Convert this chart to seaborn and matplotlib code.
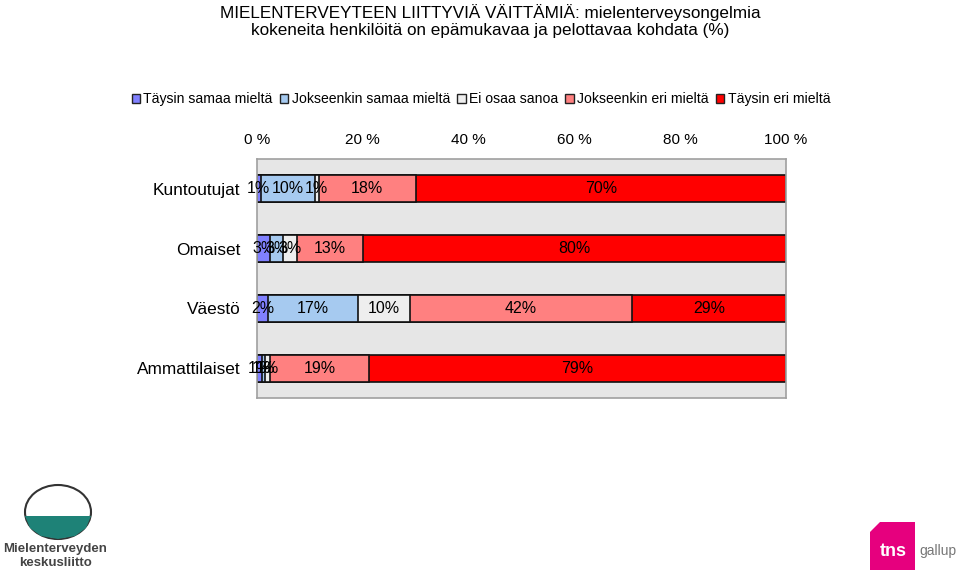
import matplotlib
matplotlib.use("Agg")
import matplotlib.pyplot as plt
from matplotlib.patches import Patch, Ellipse, Wedge, Polygon
import seaborn as sns
import pandas as pd
import numpy as np

# ---- data ----
groups = ["Kuntoutujat", "Omaiset", "Väestö", "Ammattilaiset"]
series = ["Täysin samaa mieltä", "Jokseenkin samaa mieltä", "Ei osaa sanoa",
          "Jokseenkin eri mieltä", "Täysin eri mieltä"]
taysin_samaa = [0.7, 2.5, 2.1, 0.9]
jokseenkin_samaa = [10.2, 2.5, 17.0, 0.7]
ei_osaa = [0.8, 2.5, 9.8, 0.9]
jokseenkin_eri = [18.3, 12.5, 42.0, 18.7]
taysin_eri = [70.0, 80.0, 29.1, 78.8]
labels = [
    ["1%", "10%", "1%", "18%", "70%"],
    ["3%", "3%", "3%", "13%", "80%"],
    ["2%", "17%", "10%", "42%", "29%"],
    ["1%", "1%", "1%", "19%", "79%"],
]
xticks = [0, 20, 40, 60, 80, 100]
xticklabels = ["0 %", "20 %", "40 %", "60 %", "80 %", "100 %"]
colors = ["#8080FF", "#A6CAF0", "#EEEEEE", "#FF8080", "#FF0000"]

values = np.array([taysin_samaa, jokseenkin_samaa, ei_osaa, jokseenkin_eri, taysin_eri])
cum = np.cumsum(values, axis=0)

sns.set_theme(style="white")
plt.rcParams["font.family"] = ["Liberation Sans", "DejaVu Sans"]
plt.rcParams["text.color"] = "black"
plt.rcParams["xtick.color"] = "black"
plt.rcParams["ytick.color"] = "black"

fig = plt.figure(figsize=(9.59, 5.72), dpi=100)
ax = fig.add_axes([257 / 959, 1 - 398 / 572, 529 / 959, 239 / 572])
ax.set_facecolor("#E6E6E6")

# stacked: draw cumulative totals from largest to smallest
for i in range(len(series) - 1, -1, -1):
    df = pd.DataFrame({"group": groups, "cum": cum[i]})
    sns.barplot(data=df, x="cum", y="group", order=groups, orient="h",
                color=colors[i], saturation=1, width=0.45,
                edgecolor="#111111", linewidth=1.2, ax=ax)

for gi, g in enumerate(groups):
    for si in range(len(series)):
        xc = cum[si, gi] - values[si, gi] / 2
        ax.text(xc, gi, labels[gi][si], ha="center", va="center",
                fontsize=11.5, color="black")

ax.set_xlim(0, 100)
ax.set_ylim(3.5, -0.5)
ax.xaxis.tick_top()
ax.set_xticks(xticks)
ax.set_xticklabels(xticklabels, fontsize=11)
ax.tick_params(axis="x", length=0, pad=9)
ax.tick_params(axis="y", length=0, pad=12, labelsize=12.4)
ax.set_xlabel("")
ax.set_ylabel("")
for s in ax.spines.values():
    s.set_visible(True)
    s.set_color("#A0A0A0")
    s.set_linewidth(1.2)
ax.grid(False)

# title
fig.text(490 / 959, 1 - 21 / 572,
         "MIELENTERVEYTEEN LIITTYVIÄ VÄITTÄMIÄ: mielenterveysongelmia\n"
         "kokeneita henkilöitä on epämukavaa ja pelottavaa kohdata (%)",
         ha="center", va="center", fontsize=12.3, linespacing=1.1)

# legend
handles = [Patch(facecolor=c, edgecolor="#222222", linewidth=1) for c in colors]
fig.legend(handles, series, loc="center", bbox_to_anchor=(481 / 959, 1 - 99 / 572),
           ncol=5, frameon=False, fontsize=10.1, handlelength=0.6, handleheight=0.6,
           handletextpad=0.25, columnspacing=0.5, borderaxespad=0)

# left logo (approximation)
lax = fig.add_axes([0, 0, 1, 1], facecolor="none")
lax.set_xlim(0, 959)
lax.set_ylim(572, 0)
lax.axis("off")
lax.add_patch(Ellipse((58, 512), 66, 54, facecolor="white", edgecolor="#333333", linewidth=1.5))
lax.add_patch(Polygon([(25, 516), (91, 516), (86, 528), (75, 536), (58, 539), (41, 536),
                       (30, 528)], closed=True, facecolor="#1E8277", edgecolor="none"))
lax.text(55, 549, "Mielenterveyden", ha="center", va="center", fontsize=9.5,
         fontweight="bold", color="#444444")
lax.text(55, 563, "keskusliitto", ha="center", va="center", fontsize=9.5,
         fontweight="bold", color="#444444")
# tns gallup logo (approximation)
lax.add_patch(Polygon([(880, 522), (915, 522), (915, 570), (870, 570), (870, 532)],
                      closed=True, facecolor="#E6007E", edgecolor="none"))
lax.text(893, 551, "tns", ha="center", va="center", fontsize=13, fontweight="bold",
         color="white")
lax.text(938, 551, "gallup", ha="center", va="center", fontsize=10, color="#777777")

fig.savefig("out.png", dpi=100)
